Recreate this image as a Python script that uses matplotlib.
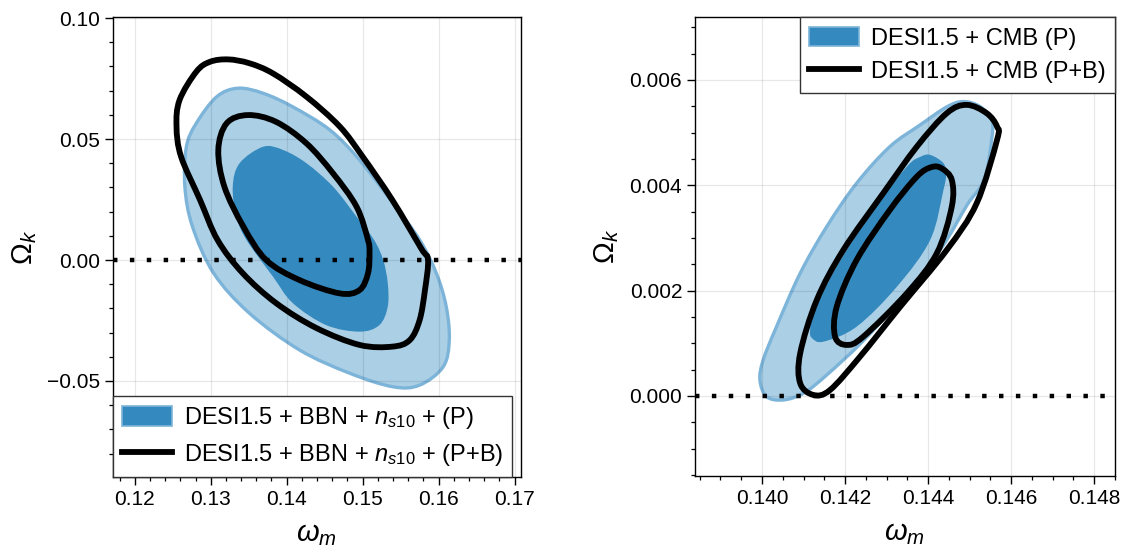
import numpy as np
import matplotlib.pyplot as plt
from matplotlib.patches import Patch, PathPatch
from matplotlib.path import Path
from matplotlib.lines import Line2D
from matplotlib.ticker import MultipleLocator, FuncFormatter

plt.rcParams['font.family'] = ['Liberation Sans', 'DejaVu Sans']
plt.rcParams['mathtext.fontset'] = 'custom'
plt.rcParams['mathtext.rm'] = 'Liberation Sans'
plt.rcParams['mathtext.it'] = 'Liberation Sans:italic'

DARK = '#3489be'
LIGHT = '#abcfe5'
EDGE = '#7db4d9'

# --- left panel: DESI1.5 + BBN + ns10, (omega_m, Omega_k) contour outlines ---
bbn_p_68_wm = [0.1369, 0.1395, 0.1426, 0.1461, 0.1492, 0.1515, 0.1527, 0.1533, 0.1533,
               0.1522, 0.1496, 0.1452, 0.1408, 0.1382, 0.1347, 0.1334, 0.1329, 0.1338]
bbn_p_68_ok = [0.0468, 0.0455, 0.0400, 0.0303, 0.0179, 0.0083, 0.0000, -0.0095, -0.0193,
               -0.0269, -0.0296, -0.0269, -0.0178, -0.0069, 0.0083, 0.0179, 0.0303, 0.0400]

bbn_p_95_wm = [0.1336, 0.1369, 0.1408, 0.1457, 0.1496, 0.1540, 0.1575, 0.1597, 0.1610,
               0.1614, 0.1606, 0.1575, 0.1540, 0.1483, 0.1417, 0.1351, 0.1304, 0.1276,
               0.1266, 0.1268, 0.1281, 0.1308]
bbn_p_95_ok = [0.0710, 0.0689, 0.0633, 0.0537, 0.0413, 0.0234, 0.0083, -0.0055, -0.0193,
               -0.0331, -0.0441, -0.0517, -0.0524, -0.0468, -0.0372, -0.0220, -0.0055, 0.0138,
               0.0303, 0.0468, 0.0565, 0.0675]

bbn_pb_68_wm = [0.1349, 0.1386, 0.1426, 0.1461, 0.1492, 0.1507, 0.1509, 0.1507, 0.1496,
                0.1470, 0.1417, 0.1373, 0.1343, 0.1318, 0.1310, 0.1321]
bbn_pb_68_ok = [0.0599, 0.0571, 0.0482, 0.0358, 0.0220, 0.0083, 0.0028, -0.0055, -0.0124,
                -0.0138, -0.0083, 0.0000, 0.0138, 0.0303, 0.0455, 0.0565]

bbn_pb_95_wm = [0.1323, 0.1351, 0.1382, 0.1426, 0.1470, 0.1500, 0.1539, 0.1577, 0.1586, 0.1582,
                0.1575, 0.1562, 0.1539, 0.1496, 0.1439, 0.1386, 0.1342, 0.1309, 0.1286, 0.1261,
                0.1255, 0.1259, 0.1281, 0.1299]
bbn_pb_95_ok = [0.0829, 0.0813, 0.0771, 0.0675, 0.0551, 0.0427, 0.0248, 0.0048, 0.0000, -0.0124,
                -0.0248, -0.0331, -0.0358, -0.0351, -0.0281, -0.0178, -0.0054, 0.0083, 0.0248, 0.0427,
                0.0551, 0.0661, 0.0778, 0.0819]

# --- right panel: DESI1.5 + CMB ---
cmb_p_68_wm = [0.14405, 0.14437, 0.14443, 0.14437, 0.14405, 0.14325, 0.14228, 0.14148,
               0.14120, 0.14116, 0.14124, 0.14180, 0.14268, 0.14349, 0.14381]
cmb_p_68_ok = [0.004577, 0.004419, 0.004197, 0.003913, 0.002963, 0.002076, 0.001316, 0.001031,
               0.001102, 0.001254, 0.001571, 0.002456, 0.003533, 0.004355, 0.004539]

cmb_p_95_wm = [0.14485, 0.14525, 0.14553, 0.14553, 0.14535, 0.14494, 0.14429, 0.14333, 0.14241,
               0.14156, 0.14100, 0.14051, 0.14011, 0.13995, 0.14003, 0.14035, 0.14092, 0.14156,
               0.14228, 0.14308, 0.14381, 0.14445]
cmb_p_95_ok = [0.005590, 0.005495, 0.005242, 0.004862, 0.004103, 0.003628, 0.002773, 0.001823, 0.001026,
               0.000399, 0.000051, -0.000076, -0.000013, 0.000304, 0.000684, 0.001316, 0.002330, 0.003216,
               0.004040, 0.004735, 0.005147, 0.005489]

cmb_pb_68_wm = [0.14433, 0.14457, 0.14457, 0.14421, 0.14349, 0.14244, 0.14204,
                0.14176, 0.14180, 0.14228, 0.14308, 0.14373, 0.14408]
cmb_pb_68_ok = [0.004320, 0.004103, 0.003595, 0.002710, 0.001951, 0.001126, 0.000969,
                0.001126, 0.001696, 0.002583, 0.003533, 0.004165, 0.004345]

cmb_pb_95_wm = [0.14493, 0.14541, 0.14566, 0.14566, 0.14517, 0.14445, 0.14333, 0.14236,
                0.14164, 0.14124, 0.14092, 0.14092, 0.14132, 0.14196, 0.14292, 0.14373, 0.14445]
cmb_pb_95_ok = [0.005527, 0.005369, 0.005115, 0.004862, 0.003660, 0.002773, 0.001696, 0.000746,
                0.000114, 0.000019, 0.000241, 0.000811, 0.001823, 0.002773, 0.003850, 0.004735, 0.005369]

left_labels = [r'DESI1.5 + BBN + $n_{s10}$ + (P)', r'DESI1.5 + BBN + $n_{s10}$ + (P+B)']
right_labels = ['DESI1.5 + CMB (P)', 'DESI1.5 + CMB (P+B)']


def smooth_path(xs, ys):
    # closed Catmull-Rom outline through the contour vertices, as cubic Bezier segments
    p = np.column_stack([xs, ys])
    n = len(p)
    verts = [p[0]]
    codes = [Path.MOVETO]
    for i in range(n):
        p0, p1, p2, p3 = p[i - 1], p[i], p[(i + 1) % n], p[(i + 2) % n]
        verts += [p1 + (p2 - p0) / 6, p2 - (p3 - p1) / 6, p2]
        codes += [Path.CURVE4] * 3
    verts.append(p[0])
    codes.append(Path.CLOSEPOLY)
    return Path(verts, codes)


def draw_panel(ax, p68, p95, pb68, pb95):
    ax.add_patch(PathPatch(smooth_path(*p95), facecolor=LIGHT, edgecolor=EDGE, lw=2.4, zorder=2))
    ax.add_patch(PathPatch(smooth_path(*p68), facecolor=DARK, edgecolor='none', zorder=3))
    for c in (pb68, pb95):
        ax.add_patch(PathPatch(smooth_path(*c), fill=False, edgecolor='k', lw=4.2, zorder=4))
    ax.axhline(0, color='k', lw=3.2, dashes=(1, 2.8), dash_capstyle='butt', zorder=5)
    ax.grid(True, color='k', alpha=0.09, lw=0.9, zorder=6)
    ax.set_axisbelow(False)
    ax.tick_params(which='major', length=5.5, width=1.0, labelsize=15, direction='out')
    ax.tick_params(which='minor', length=3, width=0.9, direction='out')
    for s in ax.spines.values():
        s.set_linewidth(1.0)
    ax.set_xlabel(r'$\omega_m$', fontsize=21, labelpad=8)
    ax.set_ylabel(r'$\Omega_k$', fontsize=21, labelpad=6)


def fmt(digits):
    return FuncFormatter(lambda v, pos: f'{v:.{digits}f}'.replace('-', '\u2212'))


def legend_handles(labels):
    return [Patch(facecolor=DARK, edgecolor=EDGE, lw=1.2, label=labels[0]),
            Line2D([], [], color='k', lw=4.2, label=labels[1])]


fig = plt.figure(figsize=(11.28, 5.5), dpi=100)
ax1 = fig.add_axes([112.7 / 1128, (550 - 477.3) / 550, 408 / 1128, 460 / 550])
ax2 = fig.add_axes([694.7 / 1128, (550 - 476) / 550, 420.3 / 1128, 458.7 / 550])

draw_panel(ax1, (bbn_p_68_wm, bbn_p_68_ok), (bbn_p_95_wm, bbn_p_95_ok),
           (bbn_pb_68_wm, bbn_pb_68_ok), (bbn_pb_95_wm, bbn_pb_95_ok))
ax1.set_xlim(0.1171, 0.1708)
ax1.set_ylim(-0.0898, 0.1003)
ax1.xaxis.set_major_locator(MultipleLocator(0.01))
ax1.xaxis.set_minor_locator(MultipleLocator(0.002))
ax1.yaxis.set_major_locator(MultipleLocator(0.05))
ax1.yaxis.set_minor_locator(MultipleLocator(0.01))
ax1.xaxis.set_major_formatter(fmt(2))
ax1.yaxis.set_major_formatter(fmt(2))

draw_panel(ax2, (cmb_p_68_wm, cmb_p_68_ok), (cmb_p_95_wm, cmb_p_95_ok),
           (cmb_pb_68_wm, cmb_pb_68_ok), (cmb_pb_95_wm, cmb_pb_95_ok))
ax2.set_xlim(0.13838, 0.1485)
ax2.set_ylim(-0.00152, 0.00719)
ax2.xaxis.set_major_locator(MultipleLocator(0.002))
ax2.xaxis.set_minor_locator(MultipleLocator(0.0005))
ax2.yaxis.set_major_locator(MultipleLocator(0.002))
ax2.yaxis.set_minor_locator(MultipleLocator(0.0005))
ax2.xaxis.set_major_formatter(fmt(3))
ax2.yaxis.set_major_formatter(fmt(3))

for ax, labels, loc in ((ax1, left_labels, 'lower left'), (ax2, right_labels, 'upper right')):
    leg = ax.legend(handles=legend_handles(labels), loc=loc, fontsize=17, borderaxespad=0,
                    fancybox=False, framealpha=1, edgecolor='#333333',
                    handlelength=2.1, handleheight=0.9, handletextpad=0.5, labelspacing=0.45)
    leg.get_frame().set_linewidth(1.0)
    leg.set_zorder(10)

fig.savefig('out.png', dpi=100)
